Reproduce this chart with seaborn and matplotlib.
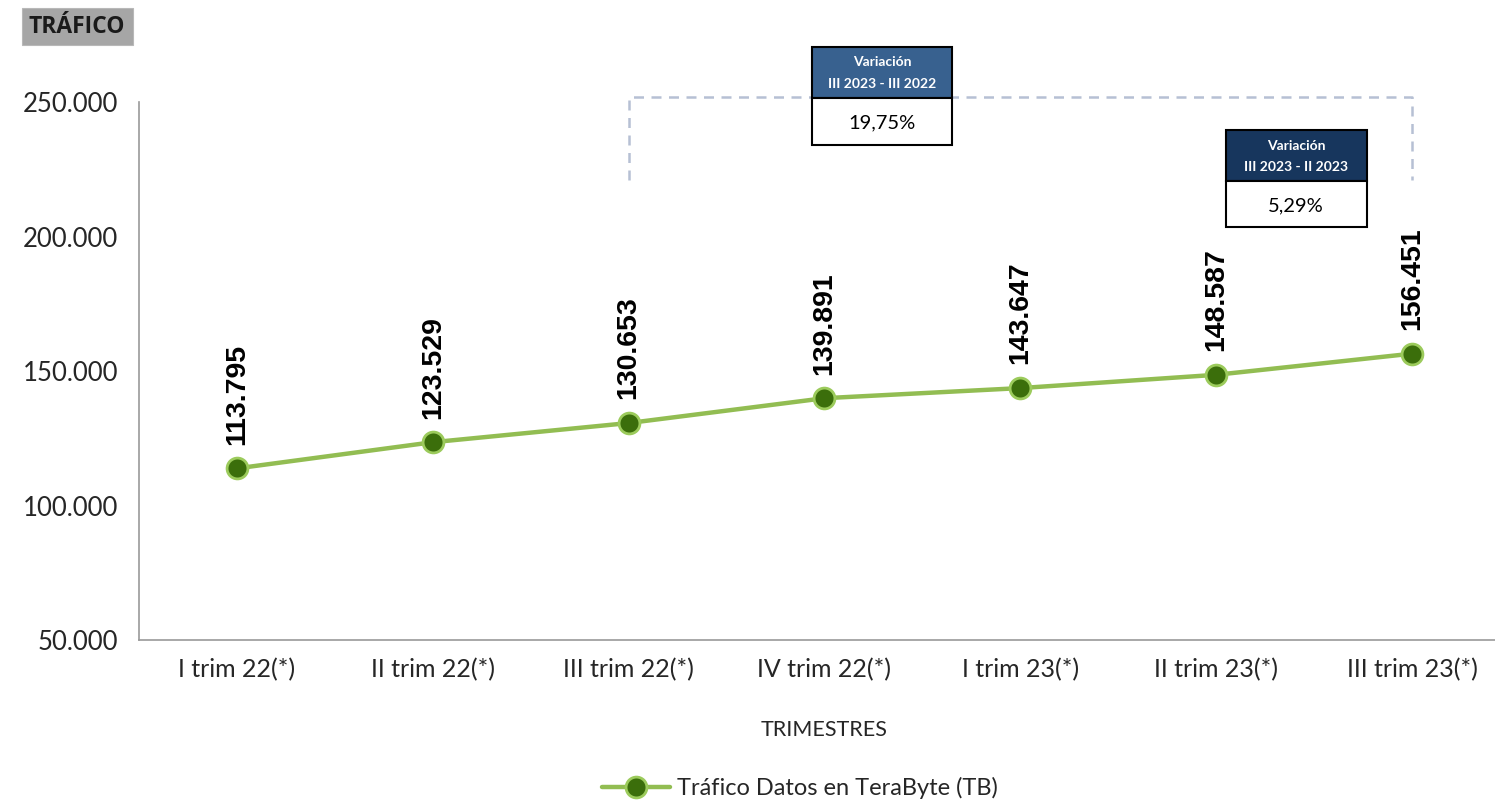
import matplotlib
matplotlib.use('Agg')
from matplotlib import pyplot as plt
from matplotlib.patches import Rectangle
from matplotlib.ticker import FuncFormatter, FixedLocator
import numpy as np
import seaborn as sns

quarters = ['I trim 22(*)', 'II trim 22(*)', 'III trim 22(*)', 'IV trim 22(*)',
            'I trim 23(*)', 'II trim 23(*)', 'III trim 23(*)']
traffic_tb = [113795, 123529, 130653, 139891, 143647, 148587, 156451]
y_ticks = [50000, 100000, 150000, 200000, 250000]
series_name = 'Tráfico Datos en TeraByte (TB)'

FIG_W, FIG_H = 1495, 802
LINE_GREEN = '#92bd52'
DOT_GREEN = '#3b6e0b'
TEXT_FONT = ['Lato', 'DejaVu Sans']


def thousands(value, _pos=None):
    return f'{int(round(value)):,}'.replace(',', '.')


def fig_box(fig, x0, y0, x1, y1, face, edge='black', lw=1.5):
    # pixel coordinates from the top-left corner of the figure
    rect = Rectangle((x0 / FIG_W, 1 - y1 / FIG_H), (x1 - x0) / FIG_W, (y1 - y0) / FIG_H,
                     transform=fig.transFigure, facecolor=face, edgecolor=edge, linewidth=lw)
    fig.add_artist(rect)


def fig_text(fig, x, y, text, **kwargs):
    fig.text(x / FIG_W, 1 - y / FIG_H, text, ha='center', va='center', **kwargs)


sns.set_style('white')
plt.rcParams['font.family'] = TEXT_FONT

fig = plt.figure(figsize=(FIG_W / 100, FIG_H / 100), dpi=100)
ax = fig.add_axes([139 / FIG_W, 1 - 640 / FIG_H, 1371 / FIG_W, 538 / FIG_H])

positions = np.arange(len(quarters))
sns.lineplot(x=positions, y=traffic_tb, ax=ax, color=LINE_GREEN, linewidth=3.2,
             marker='o', markersize=15, markerfacecolor=DOT_GREEN,
             markeredgecolor='#9ccb5c', markeredgewidth=2, label=series_name, legend=False)

for x, value in zip(positions, traffic_tb):
    ax.annotate(thousands(value), (x, value), xytext=(0, 17), textcoords='offset points',
                rotation=90, ha='center', va='bottom', fontsize=20.5, fontweight='bold',
                family=['Liberation Sans', 'DejaVu Sans'], color='black')

ax.set_xlim(-0.5, len(quarters) - 0.5)
ax.set_ylim(50000, 250000)
ax.set_yticks(y_ticks)
ax.yaxis.set_major_formatter(FuncFormatter(thousands))
ax.set_xticks(positions)
ax.set_xticklabels(quarters)
ax.xaxis.set_minor_locator(FixedLocator(positions[:-1] + 0.5))

for side in ['top', 'right']:
    ax.spines[side].set_visible(False)
for side in ['left', 'bottom']:
    ax.spines[side].set_color('#9a9a9a')
    ax.spines[side].set_linewidth(1.2)

ax.tick_params(axis='y', which='major', length=7, width=1, color='#9a9a9a', labelsize=18.5, pad=8)
ax.tick_params(axis='x', which='major', length=0, labelsize=18, pad=13)
ax.tick_params(axis='x', which='minor', length=6, width=1, color='#9a9a9a')
ax.set_xlabel('TRIMESTRES', fontsize=15.5, labelpad=28)
ax.set_ylabel('')
ax.grid(False)

handles, labels = ax.get_legend_handles_labels()
fig.legend(handles, labels, loc='center', bbox_to_anchor=(800 / FIG_W, 1 - 788 / FIG_H),
           frameon=False, fontsize=17, handlelength=2.9, handletextpad=0.3)

# title tag
fig_box(fig, 22, 8, 133, 45, '#a6a6a6', edge='#b8b8b8', lw=0.8)
fig_text(fig, 77, 27, 'TRÁFICO', fontsize=16.5, fontweight='bold',
         family=['Open Sans', 'DejaVu Sans'], color='#1a1a1a')

# dashed bracket from III trim 22 to III trim 23
bracket_top = 251800
bracket_bottom = 221000
ax.plot([2, 2, 6, 6], [bracket_bottom, bracket_top, bracket_top, bracket_bottom],
        color='#b6c0d4', linewidth=1.8, linestyle=(0, (4, 3)), clip_on=False, zorder=1)

# variation boxes
fig_box(fig, 812, 47, 952, 98, '#38618f')
fig_box(fig, 812, 98, 952, 145, 'white')
fig_text(fig, 882, 62, 'Variación', fontsize=10, fontweight='bold', color='white')
fig_text(fig, 882, 84, 'III 2023 - III 2022', fontsize=10, fontweight='bold', color='white')
fig_text(fig, 882, 123, '19,75%', fontsize=14.5, color='black')

fig_box(fig, 1226, 130, 1367, 181, '#17365d')
fig_box(fig, 1226, 181, 1367, 227, 'white')
fig_text(fig, 1296, 146, 'Variación', fontsize=10, fontweight='bold', color='white')
fig_text(fig, 1296, 167, 'III 2023 - II 2023', fontsize=10, fontweight='bold', color='white')
fig_text(fig, 1296, 206, '5,29%', fontsize=14.5, color='black')

fig.savefig('out.png', dpi=100)
plt.close(fig)
